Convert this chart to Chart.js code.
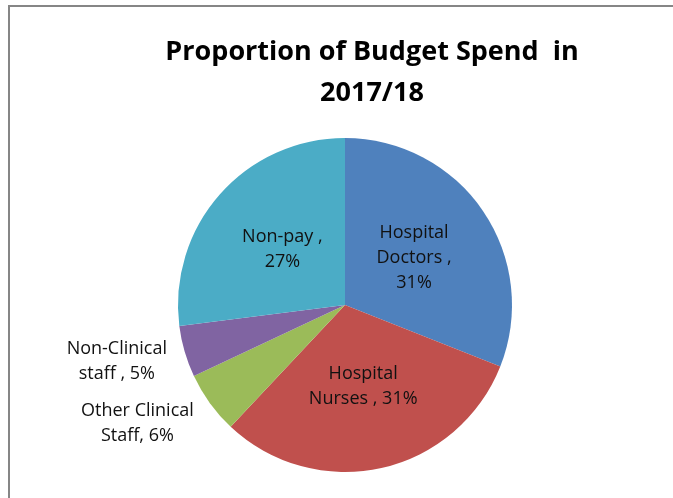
<!DOCTYPE html>
<html>
<head>
<meta charset="utf-8">
<script src="https://cdn.jsdelivr.net/npm/chart.js@4"></script>
<style>
  html, body { margin: 0; padding: 0; background: #fff; }
  #wrap { position: relative; width: 673px; height: 498px; overflow: hidden; }
  #frame { position: absolute; left: 8px; top: 5px; width: 700px; height: 600px;
           border-left: 2px solid #868686; border-top: 2px solid #868686; }
  canvas { position: absolute; left: 0; top: 0; }
</style>
</head>
<body>
<div id="wrap">
  <div id="frame"></div>
  <canvas id="budgetChart" width="673" height="498"></canvas>
</div>
<script>
// Budget split 2017/18
const categories = ["Hospital Doctors", "Hospital Nurses", "Other Clinical Staff", "Non-Clinical staff", "Non-pay"];
const shares = [31, 31, 6, 5, 27];
const sliceColors = ["#4F81BD", "#C0504D", "#9BBB59", "#8064A2", "#4BACC6"];
// how each data label is wrapped in the picture
const labelLines = [
    ["Hospital", "Doctors ,", "31%"],
    ["Hospital", "Nurses , 31%"],
    ["Other Clinical", "Staff, 6%"],
    ["Non-Clinical", "staff , 5%"],
    ["Non-pay ,", "27%"]
];
const outsideLabel = [false, false, true, true, false];
const titleLines = ["Proportion of Budget Spend  in", "2017/18"];

const FONT = '"Open Sans", "Liberation Sans", sans-serif';

const labelPlugin = {
    id: "pieLabels",
    afterDatasetsDraw(chart) {
        const ctx = chart.ctx;
        const meta = chart.getDatasetMeta(0);
        ctx.save();
        ctx.fillStyle = "#111";
        ctx.textAlign = "center";
        ctx.textBaseline = "middle";
        ctx.font = "18px " + FONT;
        const lh = 25;
        meta.data.forEach(function (arc, i) {
            const lines = labelLines[i];
            const mid = (arc.startAngle + arc.endAngle) / 2;
            let cx, cy;
            if (!outsideLabel[i]) {
                const d = arc.outerRadius * 0.5;
                cx = arc.x + Math.cos(mid) * d;
                cy = arc.y + Math.sin(mid) * d;
            } else {
                const d = arc.outerRadius + 10;
                const ax = arc.x + Math.cos(mid) * d;
                const ay = arc.y + Math.sin(mid) * d;
                const w = Math.max.apply(null, lines.map(function (t) { return ctx.measureText(t).width; }));
                const h = lines.length * lh;
                cx = ax - 8 - w / 2;
                cy = ay + Math.sin(mid) * h / 2;
            }
            const y0 = cy - (lines.length - 1) * lh / 2;
            lines.forEach(function (t, k) { ctx.fillText(t, cx, y0 + k * lh); });
        });
        // title
        ctx.fillStyle = "#000";
        ctx.font = "bold 27px " + FONT;
        ctx.fillText(titleLines[0], 372, 52);
        ctx.fillText(titleLines[1], 372, 93);
        ctx.restore();
    }
};

const ctx = document.getElementById("budgetChart").getContext("2d");
new Chart(ctx, {
    type: "pie",
    data: {
        labels: categories,
        datasets: [{
            data: shares,
            backgroundColor: sliceColors,
            borderWidth: 0
        }]
    },
    options: {
        responsive: false,
        animation: false,
        layout: { padding: { left: 178, right: 161, top: 138, bottom: 26 } },
        plugins: {
            legend: { display: false },
            title: { display: false },
            tooltip: { enabled: false }
        }
    },
    plugins: [labelPlugin]
});
</script>
</body>
</html>
